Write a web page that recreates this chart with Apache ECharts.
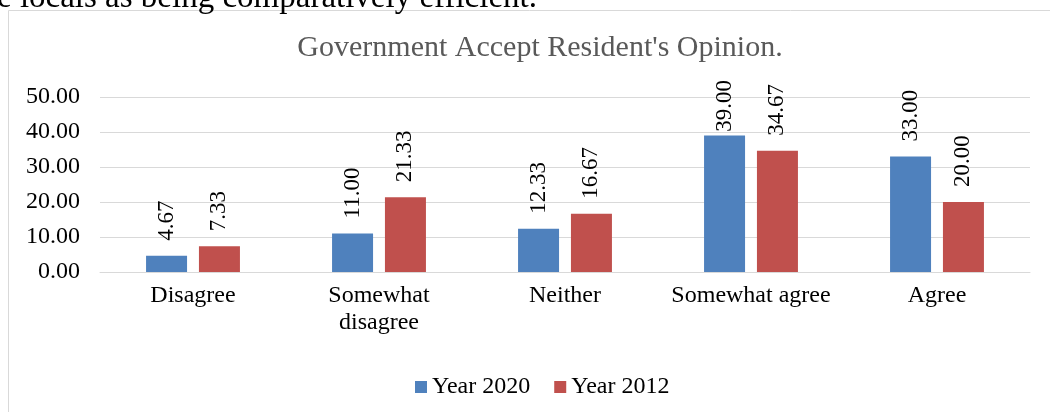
<!DOCTYPE html>
<html><head><meta charset="utf-8">
<script src="https://cdn.jsdelivr.net/npm/echarts@6/dist/echarts.min.js"></script>
<style>html,body{margin:0;padding:0;background:#fff}#c{width:1050px;height:412px}</style>
</head><body><div id="c"></div>
<script>
const categories = ['Disagree', 'Somewhat\ndisagree', 'Neither', 'Somewhat agree', 'Agree'];
const year2020 = [4.67, 11.00, 12.33, 39.00, 33.00];
const year2012 = [7.33, 21.33, 16.67, 34.67, 20.00];
const seriesNames = ['Year 2020', 'Year 2012'];
const titleText = "Government Accept Resident's Opinion.";
const pageText = 'e locals as being comparatively efficient.';

const font = '"Liberation Serif", "Times New Roman", serif';
const chart = echarts.init(document.getElementById('c'));
const lbl = {
  show: true, position: 'top', rotate: 90, align: 'left', verticalAlign: 'middle',
  distance: 15, fontFamily: font, fontSize: 23, color: '#000',
  formatter: p => p.value.toFixed(2)
};
const LABEL_TOP_LIMIT = 80;
const keepInside = p => {
  const r = p.labelRect;
  const top = Math.min(r.y, r.y + r.height);
  const h = Math.abs(r.height);
  if (top < LABEL_TOP_LIMIT) {
    return { x: r.x + r.width / 2, y: LABEL_TOP_LIMIT + h, align: 'left', verticalAlign: 'middle' };
  }
  return {};
};
chart.setOption({
  animation: false,
  graphic: [
    { type: 'rect', shape: { x: 8.5, y: 10.5, width: 1200, height: 600 },
      style: { fill: 'none', stroke: '#d9d9d9', lineWidth: 1 }, z: -1 },
    { type: 'text', x: -3, y: 15,
      style: { text: pageText, fontFamily: font, fontSize: 33, fill: '#000', verticalAlign: 'bottom' } },
    { type: 'text', x: 540, y: 48,
      style: { text: titleText, fontFamily: font, fontSize: 30, fill: '#595959', align: 'center', verticalAlign: 'middle' } }
  ],
  legend: { top: 370, left: 410, itemWidth: 12, itemHeight: 12, itemGap: 24,
    icon: 'rect', textStyle: { fontFamily: font, fontSize: 24, color: '#000' }, data: seriesNames },
  grid: { left: 100, right: 20, top: 97, bottom: 140 },
  xAxis: { type: 'category', data: categories,
    axisLine: { lineStyle: { color: '#d9d9d9', width: 1 } }, axisTick: { show: false },
    axisLabel: { interval: 0, fontFamily: font, fontSize: 24, color: '#000', margin: 10, lineHeight: 27 } },
  yAxis: { type: 'value', min: 0, max: 50, interval: 10,
    axisLine: { show: false }, axisTick: { show: false },
    splitLine: { lineStyle: { color: '#d9d9d9', width: 1 } },
    axisLabel: { fontFamily: font, fontSize: 24, color: '#000', margin: 20, formatter: v => v.toFixed(2) } },
  series: [
    { name: seriesNames[0], type: 'bar', data: year2020, barWidth: 41, barGap: '29%',
      itemStyle: { color: '#4F81BD' }, label: lbl, labelLayout: keepInside },
    { name: seriesNames[1], type: 'bar', data: year2012, barWidth: 41,
      itemStyle: { color: '#C0504D' }, label: lbl, labelLayout: keepInside }
  ]
});
</script></body></html>
